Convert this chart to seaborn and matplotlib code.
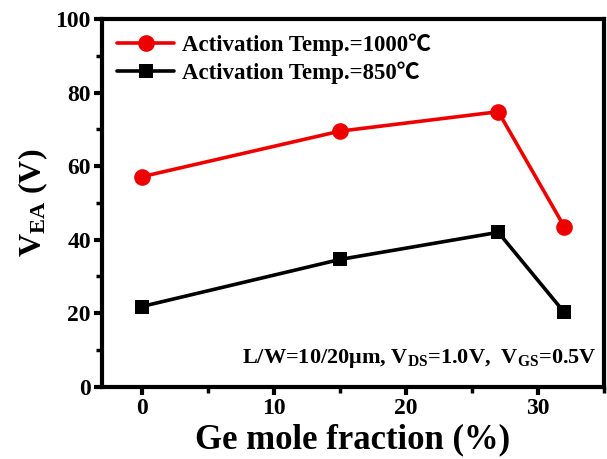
import matplotlib
matplotlib.use("Agg")
import matplotlib.pyplot as plt
from matplotlib.ticker import MultipleLocator
import seaborn as sns
import pandas as pd

# Ge mole fraction (%) and Early voltage V_EA (V)
ge_fraction = [0, 15, 27, 32]
vea_1000 = [57.1, 69.5, 74.8, 43.5]
vea_850 = [21.8, 34.6, 42.0, 20.2]
labels = ["Activation Temp.=1000\u2103", "Activation Temp.=850\u2103"]

sns.set_style("ticks")
plt.rcParams["font.family"] = ["Liberation Serif", "Noto Sans CJK SC", "DejaVu Serif"]
plt.rcParams["font.weight"] = "bold"
plt.rcParams["text.color"] = "black"
plt.rcParams["axes.labelcolor"] = "black"
plt.rcParams["axes.edgecolor"] = "black"
plt.rcParams["xtick.color"] = "black"
plt.rcParams["ytick.color"] = "black"
plt.rcParams["mathtext.fontset"] = "custom"
plt.rcParams["mathtext.rm"] = "Liberation Serif:bold"
plt.rcParams["mathtext.bf"] = "Liberation Serif:bold"
plt.rcParams["mathtext.it"] = "Liberation Serif:bold"

df = pd.DataFrame({
    "x": ge_fraction * 2,
    "y": vea_1000 + vea_850,
    "series": [labels[0]] * 4 + [labels[1]] * 4,
})

fig = plt.figure(figsize=(6.07, 4.59), dpi=100)
ax = fig.add_axes([0.168, 0.1575, 0.827, 0.801])

sns.lineplot(data=df[df.series == labels[0]], x="x", y="y", color="#ee0000",
             marker="o", markersize=12, markeredgewidth=0, linewidth=2.6,
             label=labels[0], ax=ax)
sns.lineplot(data=df[df.series == labels[1]], x="x", y="y", color="black",
             marker="s", markersize=10, markeredgewidth=0, linewidth=2.6,
             label=labels[1], ax=ax)

ax.set_xlim(-3, 35)
ax.set_ylim(0, 100)
ax.xaxis.set_major_locator(MultipleLocator(10))
ax.xaxis.set_minor_locator(MultipleLocator(5))
ax.yaxis.set_major_locator(MultipleLocator(20))
ax.yaxis.set_minor_locator(MultipleLocator(10))

for s in ax.spines.values():
    s.set_linewidth(3)
    s.set_visible(True)
    s.set_color("black")
ax.tick_params(which="major", direction="out", length=6, width=3, labelsize=17, pad=2)
ax.tick_params(which="minor", direction="out", length=4, width=2.5)
for lab in ax.get_xticklabels() + ax.get_yticklabels():
    lab.set_fontweight("bold")

ax.set_xlabel("Ge mole fraction (%)", fontsize=25, fontweight="bold", labelpad=3)
ax.set_ylabel(r"V$_{\mathregular{EA}}$ (V)", fontsize=23, fontweight="bold", labelpad=4)

ax.text(0.985, 0.045,
        "L/W=10/20\u03bcm, V$_{\\mathregular{DS}}$=1.0V,  V$_{\\mathregular{GS}}$=0.5V",
        transform=ax.transAxes, ha="right", va="bottom", fontsize=16, fontweight="bold")

leg = ax.legend(loc="upper left", frameon=False, fontsize=16.5, handlelength=2.5,
                handletextpad=0.35, borderaxespad=0.25, labelspacing=0.2,
                bbox_to_anchor=(0.0, 1.0))
for t in leg.get_texts():
    t.set_fontweight("bold")

fig.savefig("out.png", dpi=100)
